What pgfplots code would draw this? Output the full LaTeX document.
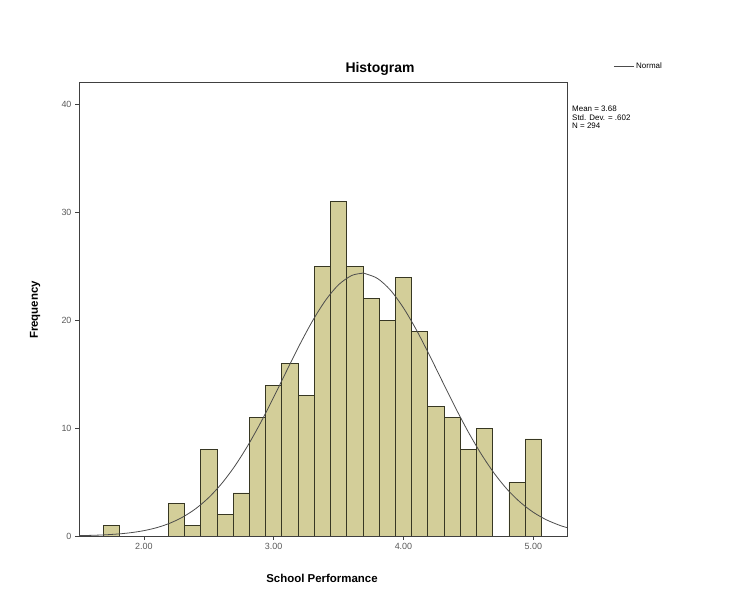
\documentclass[border=0pt]{standalone}
\usepackage{fontspec}
\setmainfont{Liberation Sans}
\usepackage{pgfplots}
\pgfplotsset{compat=1.18}
\definecolor{barfill}{RGB}{211,206,153}
\definecolor{baredge}{RGB}{55,55,35}
\definecolor{ticktext}{RGB}{90,90,90}
\begin{document}
\begin{tikzpicture}[x=1bp,y=1bp]
\path[use as bounding box] (0,0) rectangle (740,596);
\begin{axis}[
  at={(79bp,60bp)}, anchor=south west,
  scale only axis, width=488bp, height=454bp,
  xmin=1.5, xmax=5.26, ymin=0, ymax=42.1,
  xtick={2,3,4,5}, ytick={0,10,20,30,40},
  xticklabel style={/pgf/number format/fixed,/pgf/number format/precision=2,/pgf/number format/fixed zerofill},
  /pgf/number format/assume math mode=true,
  tick label style={font=\fontsize{9}{10}\selectfont, text=ticktext},
  tick align=outside, xtick pos=bottom, ytick pos=left,
  major tick length=4bp,
  axis line style={draw=black!75, line width=0.9pt},
  every tick/.style={black!75, line width=0.7pt},
  legend style={at={(rel axis cs:1.095,1.035)}, anchor=west, draw=none, fill=none,
    font=\fontsize{8}{9}\selectfont, inner sep=0pt},
  legend cell align=left,
  legend image code/.code={\draw[#1] (0cm,0cm) -- (0.7cm,0cm);},
]
\addplot[ybar, bar width=0.125, fill=barfill, draw=baredge, line width=0.7pt, forget plot] coordinates {
(1.75,1) (2.25,3) (2.375,1) (2.5,8) (2.625,2) (2.75,4) (2.875,11) (3.0,14)
(3.125,16) (3.25,13) (3.375,25) (3.5,31) (3.625,25) (3.75,22) (3.875,20)
(4.0,24) (4.125,19) (4.25,12) (4.375,11) (4.5,8) (4.625,10) (4.875,5) (5.0,9)
};
\addplot[smooth, draw=black!70, line width=0.8pt] coordinates {
(1.5,0.035) (1.6,0.062) (1.7,0.109) (1.8,0.186) (1.9,0.308) (2.0,0.496)
(2.1,0.778) (2.2,1.186) (2.3,1.760) (2.4,2.541) (2.5,3.566) (2.6,4.872)
(2.7,6.475) (2.8,8.370) (2.9,10.52) (3.0,12.87) (3.1,15.32) (3.2,17.73)
(3.3,19.96) (3.4,21.86) (3.5,23.30) (3.6,24.15) (3.68,24.36) (3.7,24.35)
(3.8,23.88) (3.9,22.79) (4.0,21.15) (4.1,19.10) (4.2,16.77) (4.3,14.33)
(4.4,11.91) (4.5,9.63) (4.6,7.58) (4.7,5.80) (4.8,4.31) (4.9,3.125)
(5.0,2.202) (5.1,1.508) (5.2,1.005) (5.26,0.778)
};
\addlegendentry{Normal}
\end{axis}
\node[font=\fontsize{14}{16}\selectfont\bfseries] at (380,527) {Histogram};
\node[font=\fontsize{11.5}{13}\selectfont\bfseries, rotate=90] at (35,286) {Frequency};
\node[font=\fontsize{11.5}{13}\selectfont\bfseries] at (322,18) {School Performance};
\node[font=\fontsize{8}{8.5}\selectfont, align=left, anchor=north west, inner sep=0pt] at (572,490) {Mean = 3.68\\Std. Dev. = .602\\N = 294};
\end{tikzpicture}
\end{document}
